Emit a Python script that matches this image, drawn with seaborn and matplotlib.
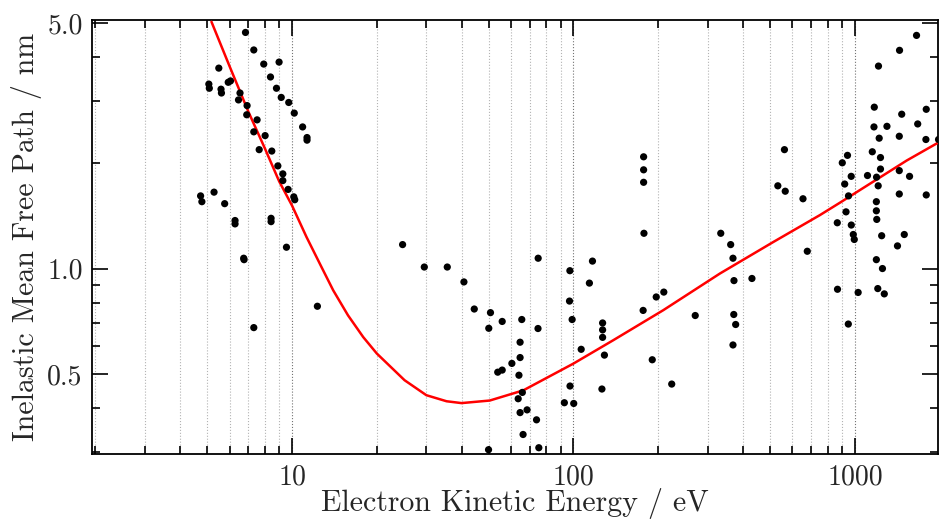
import numpy as np
import pandas as pd
import matplotlib
matplotlib.use("Agg")
import matplotlib.pyplot as plt
from matplotlib.ticker import FixedLocator, FixedFormatter, LogLocator, NullFormatter
import seaborn as sns

# ---- measured IMFP data (energy in eV, IMFP in nm) ----
energy_low = [6.83, 7.31, 7.93, 8.99, 5.49, 5.06, 5.08, 5.59, 5.61, 5.93, 6.04, 6.53, 6.45,
              8.38, 8.80, 9.15, 9.73, 10.18, 6.92, 6.90, 7.51, 7.31, 8.02, 7.64, 8.47, 10.9,
              11.3, 11.3, 8.90, 9.27, 9.27, 9.68, 10.14, 10.22, 4.73, 4.78, 5.28, 5.76, 6.27,
              6.27, 8.42, 8.42, 6.73, 6.75, 9.55, 12.3, 7.31]
imfp_low = [4.70, 4.19, 3.82, 3.87, 3.72, 3.35, 3.26, 3.24, 3.16, 3.39, 3.42, 3.16, 3.02,
            3.51, 3.26, 3.07, 2.97, 2.77, 2.91, 2.74, 2.65, 2.45, 2.39, 2.18, 2.16, 2.53,
            2.36, 2.32, 1.96, 1.86, 1.78, 1.68, 1.60, 1.57, 1.61, 1.55, 1.65, 1.53, 1.37,
            1.34, 1.39, 1.36, 1.07, 1.06, 1.15, 0.781, 0.679]

energy_mid = [24.7, 29.5, 35.6, 40.8, 44.4, 50.7, 50.0, 55.8, 65.5, 74.8, 74.9, 64.6, 64.6,
              60.4, 55.8, 53.8, 64.0, 65.8, 63.6, 68.4, 64.6, 73.9, 66.2, 49.9, 75.3, 97.1,
              116.8, 113.9, 96.8, 98.9, 126.9, 126.9, 126.9, 128.8, 106.5, 97.2, 92.8, 100.2,
              126.2, 177.5, 177.5, 177.5, 178.0, 176.8, 196.8, 209.4, 190.5, 223.4, 270.8,
              333.7, 361.9, 368.8, 371.8, 430.7, 371.2, 377.0, 368.8, 561.9, 532.3, 565.6,
              654.0, 677.4]
imfp_mid = [1.17, 1.01, 1.01, 0.916, 0.767, 0.749, 0.676, 0.707, 0.716, 0.675, 1.07, 0.617,
            0.558, 0.537, 0.514, 0.507, 0.497, 0.444, 0.426, 0.396, 0.389, 0.371, 0.337, 0.305,
            0.309, 0.986, 1.05, 0.909, 0.808, 0.716, 0.700, 0.669, 0.637, 0.567, 0.589, 0.463,
            0.415, 0.413, 0.454, 2.08, 1.91, 1.76, 1.26, 0.760, 0.830, 0.857, 0.550, 0.469,
            0.735, 1.26, 1.17, 1.07, 0.924, 0.937, 0.740, 0.693, 0.606, 2.18, 1.72, 1.66,
            1.58, 1.12]

energy_high = [865.9, 867.4, 902, 941.3, 920, 970.3, 949.1, 930, 971, 987, 995, 947.6, 1027,
               1108.7, 1153, 1172, 1169, 1213, 1220, 1233, 1233, 1194, 1210, 1192, 1192, 1196,
               1245, 1192, 1253, 1206, 1272, 1300, 1441, 1467, 1438, 1438, 1564, 1438, 1498,
               1417, 1656, 1672, 1793, 1788, 1793, 1983]
imfp_high = [1.35, 0.873, 2.00, 2.10, 1.74, 1.83, 1.61, 1.45, 1.33, 1.25, 1.21, 0.695, 0.855,
             1.84, 2.15, 2.88, 2.53, 3.77, 2.35, 2.07, 1.92, 1.82, 1.72, 1.55, 1.46, 1.38,
             1.24, 1.06, 1.00, 0.877, 0.847, 2.54, 4.18, 2.75, 2.38, 1.90, 1.83, 1.63, 1.25,
             1.16, 4.61, 2.58, 2.84, 2.33, 1.62, 2.33]

# ---- universal curve ----
curve_energy = [5.17, 6.0, 7.0, 8.0, 9.0, 10.0, 11.25, 12.72, 14.0, 15.8, 17.9, 20.0, 25.1,
                30.0, 35.4, 40.0, 50.4, 66.3, 99.8, 138.4, 208.4, 331.5, 512.9, 751.6, 885,
                1528, 1991]
curve_imfp = [5.04, 3.76, 2.79, 2.20, 1.77, 1.51, 1.23, 1.01, 0.867, 0.736, 0.638, 0.573, 0.481,
              0.436, 0.419, 0.414, 0.421, 0.450, 0.536, 0.625, 0.761, 0.968, 1.19, 1.42, 1.54,
              2.03, 2.29]

x_major = [10, 100, 1000]
x_labels = ["10", "100", "1000"]
y_major = [0.5, 1.0, 5.0]
y_labels = ["0.5", "1.0", "5.0"]

points = pd.DataFrame({
    "energy": energy_low + energy_mid + energy_high,
    "imfp": imfp_low + imfp_mid + imfp_high,
})
curve = pd.DataFrame({"energy": curve_energy, "imfp": curve_imfp})

sns.set_style("ticks")
plt.rcParams.update({
    "font.family": ["cmr10", "DejaVu Serif"],
    "mathtext.fontset": "cm",
    "axes.unicode_minus": False,
    "axes.formatter.use_mathtext": True,
    "font.size": 20,
})

fig = plt.figure(figsize=(9.39, 5.19), dpi=100)
ax = fig.add_axes([0.0983, 0.1247, 0.9007, 0.8368])
ax.set_xscale("log")
ax.set_yscale("log")

sns.lineplot(data=curve, x="energy", y="imfp", ax=ax, color="red", lw=1.8,
             sort=False, estimator=None, zorder=3)
sns.scatterplot(data=points, x="energy", y="imfp", ax=ax, color="black", s=27,
                edgecolor="none", zorder=4)

ax.set_xlim(1.95, 1975)
ax.set_ylim(0.296, 5.1)

ax.xaxis.set_major_locator(FixedLocator(x_major))
ax.xaxis.set_major_formatter(FixedFormatter(x_labels))
ax.xaxis.set_minor_locator(LogLocator(base=10, subs=np.arange(2, 10)))
ax.xaxis.set_minor_formatter(NullFormatter())
ax.yaxis.set_major_locator(FixedLocator(y_major))
ax.yaxis.set_major_formatter(FixedFormatter(y_labels))
ax.yaxis.set_minor_locator(LogLocator(base=10, subs=np.arange(2, 10)))
ax.yaxis.set_minor_formatter(NullFormatter())

ax.tick_params(which="both", direction="in", top=True, right=True, width=1.2,
               labelsize=20, color="black")
ax.tick_params(which="major", length=11.5, pad=7)
ax.tick_params(which="minor", length=6)

ax.grid(True, which="major", axis="x", linestyle=":", color="0.45", lw=0.8)
ax.grid(True, which="minor", axis="x", linestyle=":", color="0.7", lw=0.8)
ax.grid(False, axis="y")

ax.set_xlabel("Electron Kinetic Energy / eV", fontsize=21.5, labelpad=-1.5)
ax.set_ylabel("Inelastic Mean Free Path / nm", fontsize=21.5, labelpad=4)

for s in ax.spines.values():
    s.set_color("black")
    s.set_linewidth(1.3)

fig.savefig("out.png", dpi=100)
